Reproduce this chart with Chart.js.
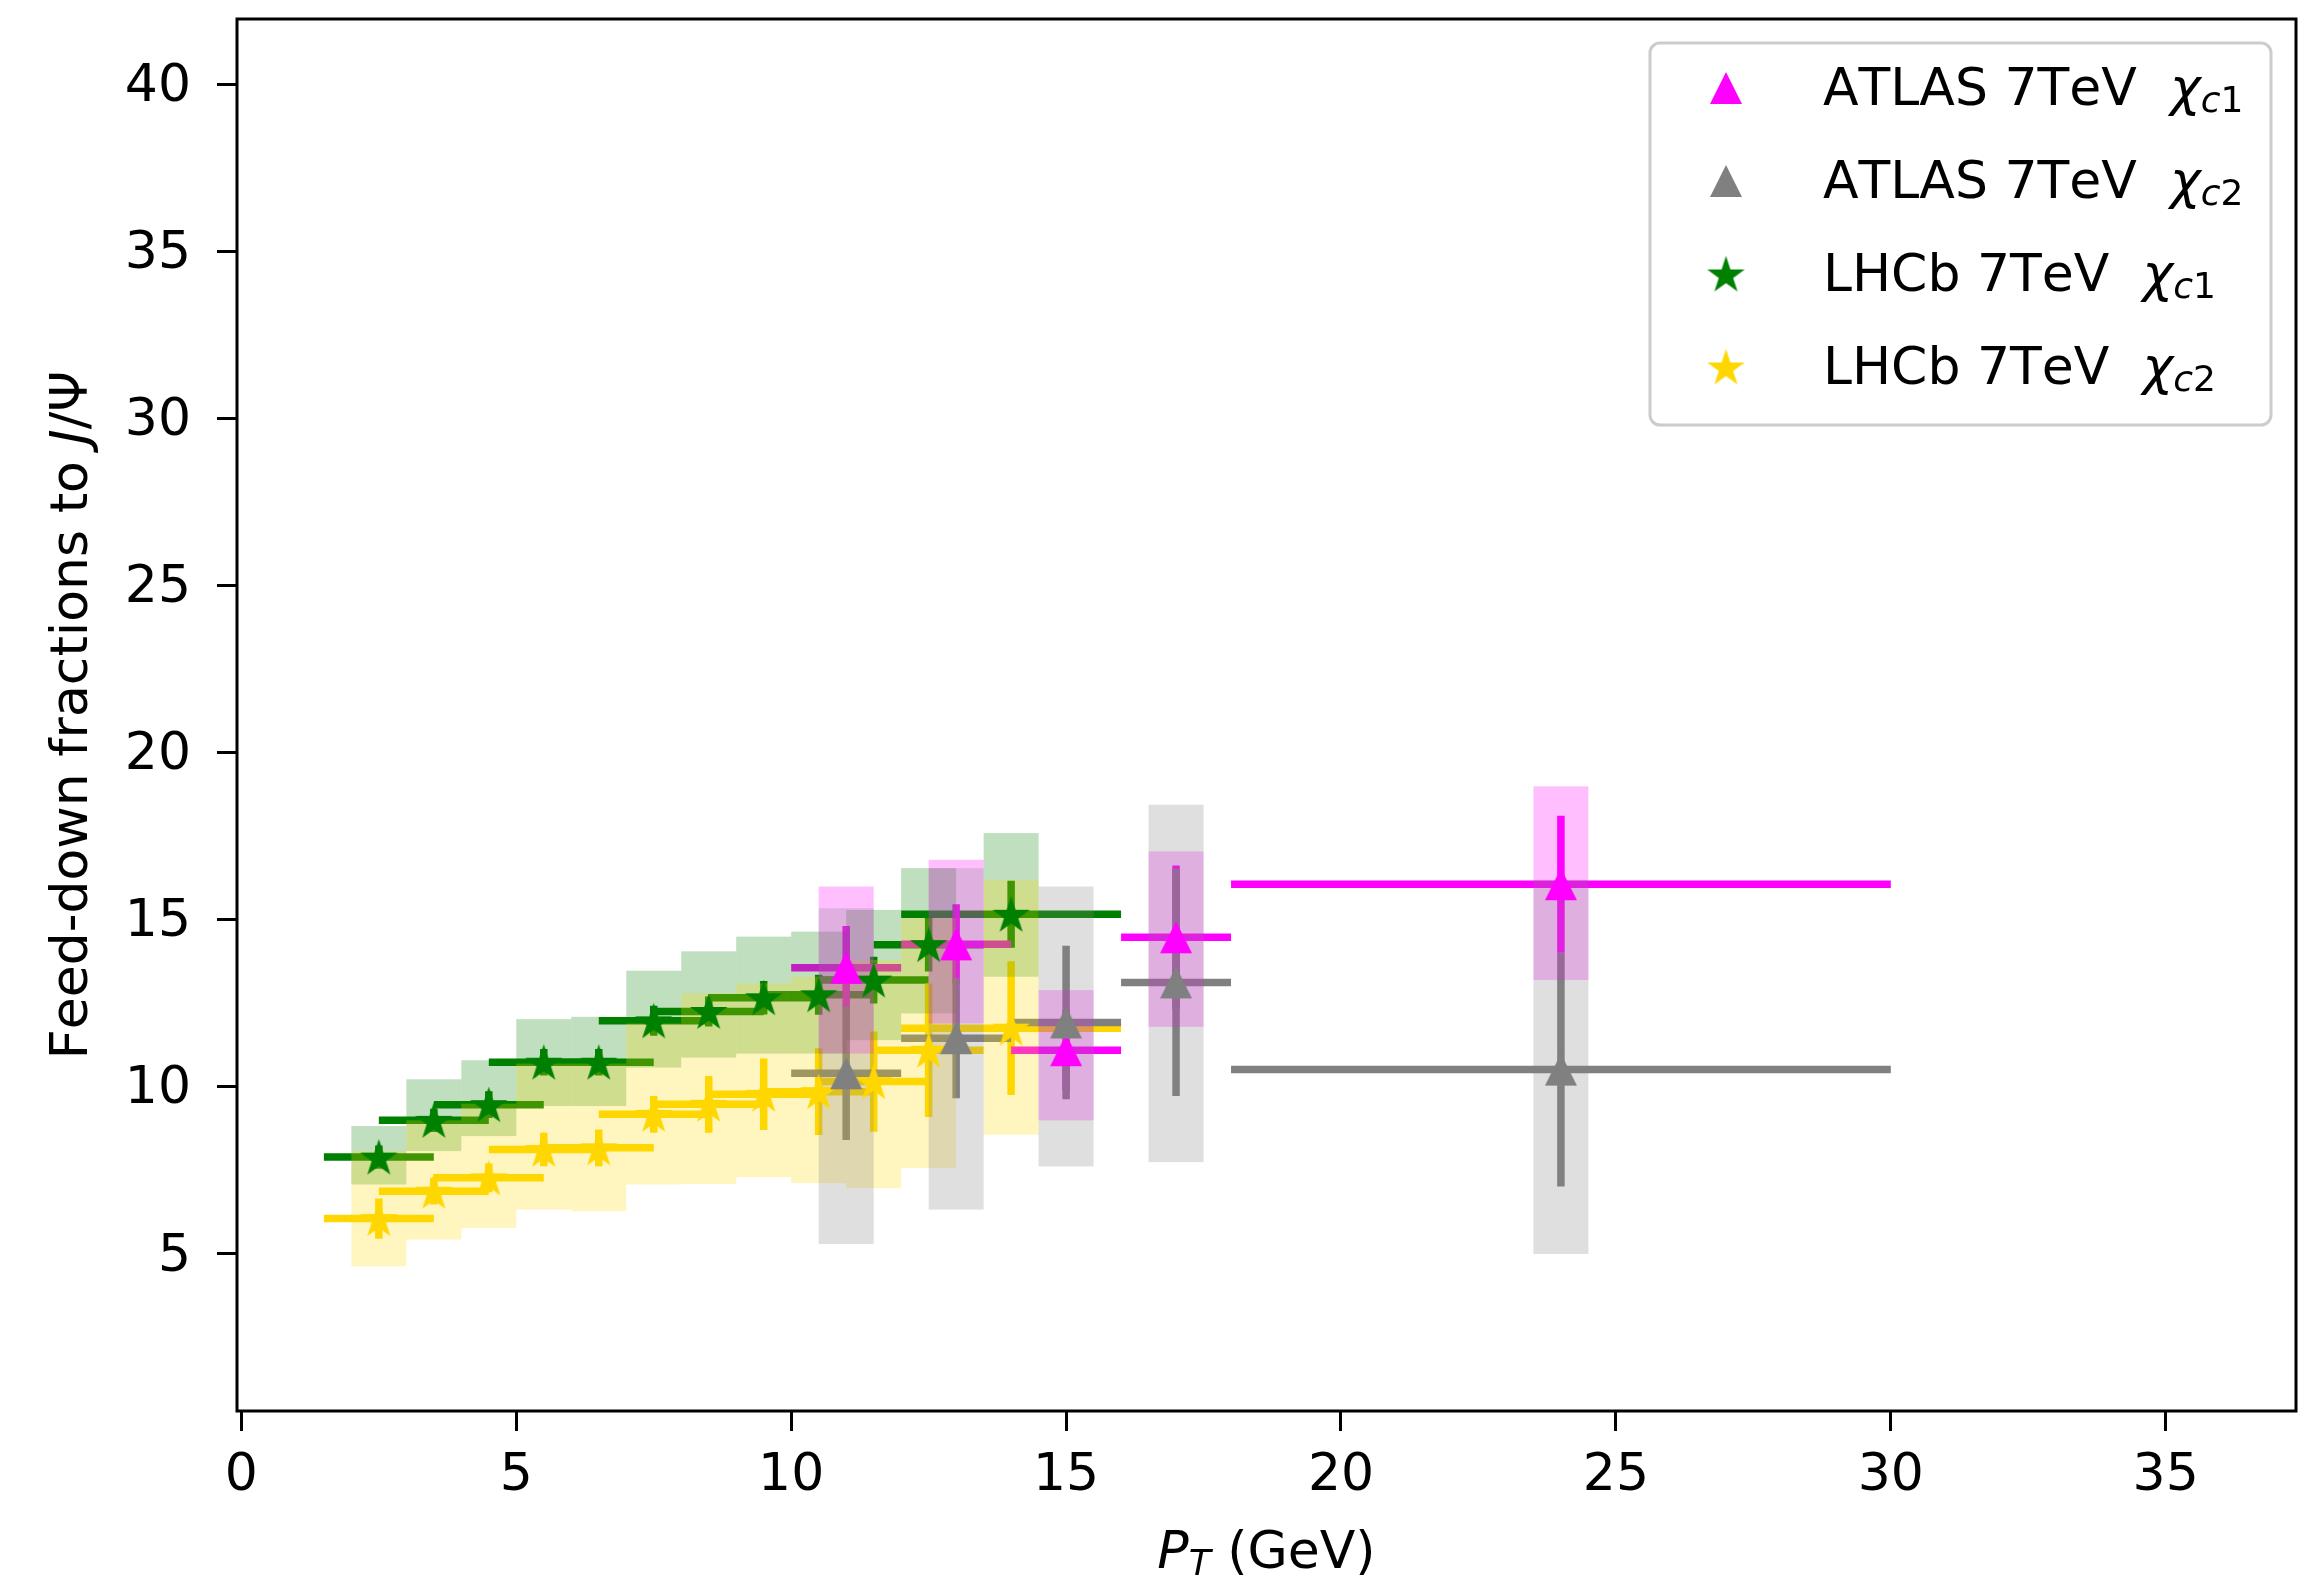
<!DOCTYPE html>
<html lang="en">
<head>
<meta charset="utf-8">
<title>Feed-down fractions to J/Psi</title>
<script src="https://cdn.jsdelivr.net/npm/chart.js@4.4.1/dist/chart.umd.min.js"></script>
<style>
  html, body { margin: 0; padding: 0; background: #ffffff; }
  canvas { display: block; }
</style>
</head>
<body>
<canvas id="feeddown" width="2321" height="1579"></canvas>
<script>
// ---- values (fractions in %) ----

// LHCb 7 TeV, one entry per pT bin
const lhcbPt = [2.5, 3.5, 4.5, 5.5, 6.5, 7.5, 8.5, 9.5, 10.5, 11.5, 12.5, 14];
const lhcbPtErr = [1, 1, 1, 1, 1, 1, 1, 1, 1, 1, 1, 2];
const lhcbChic1 = [7.9, 9.0, 9.47, 10.74, 10.74, 11.98, 12.26, 12.67, 12.76, 13.2, 14.26, 15.17];
const lhcbChic1Stat = [0.35, 0.35, 0.4, 0.4, 0.4, 0.45, 0.45, 0.5, 0.6, 0.7, 0.8, 1.0];
const lhcbChic1SysLow = [7.08, 8.08, 8.53, 9.43, 9.43, 10.58, 10.88, 11.0, 11.0, 11.4, 12.2, 13.3];
const lhcbChic1SysHigh = [8.83, 10.23, 10.8, 12.03, 12.1, 13.48, 14.06, 14.5, 14.65, 15.3, 16.55, 17.6];
const lhcbChic2 = [6.06, 6.88, 7.28, 8.13, 8.18, 9.18, 9.48, 9.78, 9.86, 10.16, 11.1, 11.76];
const lhcbChic2Stat = [0.6, 0.4, 0.43, 0.5, 0.55, 0.55, 0.85, 1.07, 1.3, 1.5, 2.0, 2.0];
const lhcbChic2SysLow = [4.63, 5.43, 5.78, 6.33, 6.28, 7.08, 7.1, 7.3, 7.12, 6.97, 7.57, 8.57];
const lhcbChic2SysHigh = [8.08, 9.0, 9.5, 10.7, 10.7, 11.9, 12.8, 13.1, 13.3, 13.8, 15.05, 16.2];

// ATLAS 7 TeV
const atlasPt = [11, 13, 15, 17, 24];
const atlasPtLow = [10, 12, 14, 16, 18];
const atlasPtHigh = [12, 14, 16, 18, 30];
const atlasChic1 = [13.57, 14.27, 11.1, 14.48, 16.07];
const atlasChic1Stat = [1.25, 1.2, 1.2, 2.15, 2.05];
const atlasChic1SysLow = [11.0, 11.9, 9.0, 11.8, 13.2];
const atlasChic1SysHigh = [16.0, 16.8, 12.9, 17.05, 19.0];
const atlasChic2 = [10.41, 11.46, 11.93, 13.13, 10.52];
const atlasChic2Stat = [2.0, 1.8, 2.3, 3.4, 3.5];
const atlasChic2SysLow = [5.3, 6.33, 7.62, 7.75, 5.0];
const atlasChic2SysHigh = [15.35, 16.55, 16.0, 18.45, 16.2];

const xTicks = [0, 5, 10, 15, 20, 25, 30, 35];
const yTicks = [5, 10, 15, 20, 25, 30, 35, 40];

const legendNames = ['ATLAS 7TeV', 'ATLAS 7TeV', 'LHCb 7TeV', 'LHCb 7TeV'];
const legendSubs = ['c1', 'c2', 'c1', 'c2'];

// ---- styling ----
const FONT = 'DejaVu Sans';
const FS = 52;                // main text size
const SUB = 36;               // subscript size
const BOX_HALF_WIDTH = 0.5;   // systematic boxes span one pT unit
const BAR_WIDTH = 7.5;

// filled marker drawn once into a small canvas, used as pointStyle
function makeMarker(shape, color, size) {
  const c = document.createElement('canvas');
  c.width = c.height = size + 6;
  const g = c.getContext('2d');
  const m = c.width / 2;
  const r = size / 2;
  g.fillStyle = color;
  g.strokeStyle = color;
  g.lineWidth = 2;
  g.lineJoin = 'miter';
  g.beginPath();
  if (shape === 'triangle') {
    g.moveTo(m, m - r);
    g.lineTo(m + r, m + r);
    g.lineTo(m - r, m + r);
  } else {
    for (let i = 0; i < 10; i++) {
      const rad = i % 2 === 0 ? r : r * 0.381966;
      const ang = -Math.PI / 2 + i * Math.PI / 5;
      g.lineTo(m + rad * Math.cos(ang), m + rad * Math.sin(ang) + r * 0.1);
    }
  }
  g.closePath();
  g.fill();
  if (shape !== 'triangle') g.stroke();
  return c;
}

// points carry their own error information
function buildPoints(xs, ys, xl, xh, stat, sysLo, sysHi) {
  return xs.map((x, i) => ({
    x: x, y: ys[i],
    xl: xl[i], xh: xh[i],
    ye: stat[i], sl: sysLo[i], sh: sysHi[i]
  }));
}

const lhcbLow = lhcbPt.map((p, i) => p - lhcbPtErr[i]);
const lhcbHigh = lhcbPt.map((p, i) => p + lhcbPtErr[i]);

const datasets = [
  {
    label: 'ATLAS 7TeV chi_c1',
    data: buildPoints(atlasPt, atlasChic1, atlasPtLow, atlasPtHigh, atlasChic1Stat, atlasChic1SysLow, atlasChic1SysHigh),
    color: '#ff00ff', box: 'rgba(255, 0, 255, 0.25)',
    pointStyle: makeMarker('triangle', '#ff00ff', 32), order: 1
  },
  {
    label: 'ATLAS 7TeV chi_c2',
    data: buildPoints(atlasPt, atlasChic2, atlasPtLow, atlasPtHigh, atlasChic2Stat, atlasChic2SysLow, atlasChic2SysHigh),
    color: '#808080', box: 'rgba(128, 128, 128, 0.25)',
    pointStyle: makeMarker('triangle', '#808080', 32), order: 0
  },
  {
    label: 'LHCb 7TeV chi_c1',
    data: buildPoints(lhcbPt, lhcbChic1, lhcbLow, lhcbHigh, lhcbChic1Stat, lhcbChic1SysLow, lhcbChic1SysHigh),
    color: '#008000', box: 'rgba(0, 128, 0, 0.25)',
    pointStyle: makeMarker('star', '#008000', 33), order: 3
  },
  {
    label: 'LHCb 7TeV chi_c2',
    data: buildPoints(lhcbPt, lhcbChic2, lhcbLow, lhcbHigh, lhcbChic2Stat, lhcbChic2SysLow, lhcbChic2SysHigh),
    color: '#ffd700', box: 'rgba(255, 215, 0, 0.25)',
    pointStyle: makeMarker('star', '#ffd700', 33), order: 2
  }
];
datasets.forEach(ds => {
  ds.showLine = false;
  ds.pointRadius = 18;
  ds.pointBackgroundColor = ds.color;
  ds.pointBorderColor = ds.color;
});

// bars go down first, the translucent boxes over them, markers last
const barOrder = [2, 3, 0, 1];

const errorPlugin = {
  id: 'errorPlugin',
  beforeDatasetsDraw(chart) {
    const { ctx, chartArea: a, scales: { x, y } } = chart;
    ctx.save();
    ctx.beginPath();
    ctx.rect(a.left, a.top, a.width, a.height);
    ctx.clip();
    ctx.lineWidth = BAR_WIDTH;
    ctx.lineCap = 'butt';
    barOrder.forEach(i => {
      const ds = chart.data.datasets[i];
      ctx.strokeStyle = ds.color;
      ds.data.forEach(p => {
        const px = x.getPixelForValue(p.x);
        const py = y.getPixelForValue(p.y);
        ctx.beginPath();
        ctx.moveTo(x.getPixelForValue(p.xl), py);
        ctx.lineTo(x.getPixelForValue(p.xh), py);
        ctx.moveTo(px, y.getPixelForValue(p.y - p.ye));
        ctx.lineTo(px, y.getPixelForValue(p.y + p.ye));
        ctx.stroke();
      });
    });
    barOrder.forEach(i => {
      const ds = chart.data.datasets[i];
      ctx.fillStyle = ds.box;
      ds.data.forEach(p => {
        const l = x.getPixelForValue(p.x - BOX_HALF_WIDTH);
        const r = x.getPixelForValue(p.x + BOX_HALF_WIDTH);
        const t = y.getPixelForValue(p.sh);
        const b = y.getPixelForValue(p.sl);
        ctx.fillRect(l, t, r - l, b - t);
      });
    });
    ctx.restore();
  }
};

// draw a row of differently styled text pieces
function drawRuns(ctx, runs, x, y) {
  runs.forEach(r => {
    ctx.font = r.font;
    ctx.fillText(r.text, x, y + (r.dy || 0));
    x += ctx.measureText(r.text).width;
  });
}
function runsWidth(ctx, runs) {
  let w = 0;
  runs.forEach(r => { ctx.font = r.font; w += ctx.measureText(r.text).width; });
  return w;
}

const decorPlugin = {
  id: 'decorPlugin',
  afterDraw(chart) {
    const { ctx, chartArea: a } = chart;
    ctx.save();
    // full frame (matplotlib spines)
    ctx.strokeStyle = '#000';
    ctx.lineWidth = 3;
    ctx.strokeRect(a.left, a.top, a.width, a.height);

    ctx.fillStyle = '#000';
    ctx.textAlign = 'left';
    ctx.textBaseline = 'alphabetic';
    ctx.fontKerning = 'none';

    // x axis title
    const xRuns = [
      { text: 'P', font: 'italic ' + FS + 'px ' + FONT },
      { text: 'T', font: 'italic ' + SUB + 'px ' + FONT, dy: 7 },
      { text: ' (GeV)', font: FS + 'px ' + FONT }
    ];
    const xw = runsWidth(ctx, xRuns);
    drawRuns(ctx, xRuns, (a.left + a.right) / 2 - xw / 2, 1568);

    // y axis title
    const yRuns = [
      { text: 'Feed-down fractions to ', font: FS + 'px ' + FONT },
      { text: 'J', font: 'italic ' + FS + 'px ' + FONT },
      { text: '/\u03A8', font: FS + 'px ' + FONT }
    ];
    const yw = runsWidth(ctx, yRuns);
    ctx.save();
    ctx.translate(87, (a.top + a.bottom) / 2);
    ctx.rotate(-Math.PI / 2);
    drawRuns(ctx, yRuns, -yw / 2, 0);
    ctx.restore();

    // legend
    const lx = 1650, ly = 43, lw = 621, lh = 382, rad = 10;
    ctx.beginPath();
    ctx.roundRect(lx, ly, lw, lh, rad);
    ctx.fillStyle = 'rgba(255, 255, 255, 0.8)';
    ctx.fill();
    ctx.strokeStyle = '#cccccc';
    ctx.lineWidth = 3;
    ctx.stroke();

    const rowY = [88, 181, 274, 367];
    chart.data.datasets.forEach((ds, i) => {
      const img = ds.pointStyle;
      ctx.drawImage(img, 1726 - img.width / 2, rowY[i] - img.height / 2);
      ctx.fillStyle = '#000';
      drawRuns(ctx, [
        { text: legendNames[i] + '  ', font: FS + 'px ' + FONT },
        { text: '\u03C7', font: 'italic ' + FS + 'px ' + FONT },
        { text: legendSubs[i][0], font: 'italic ' + SUB + 'px ' + FONT, dy: 7 },
        { text: legendSubs[i].slice(1), font: SUB + 'px ' + FONT, dy: 7 }
      ], 1823, rowY[i] + 17);
    });
    ctx.restore();
  }
};

Chart.defaults.font.family = FONT;
Chart.defaults.color = '#000';

const tickGrid = {
  display: true, drawOnChartArea: false, drawTicks: true,
  tickLength: 20, tickWidth: 3, tickColor: '#000'
};

// keep the plot box where the reference has it
function noEdgePadding(s) {
  s.paddingTop = 0; s.paddingBottom = 0;
  s.paddingLeft = 0; s.paddingRight = 0;
}

new Chart(document.getElementById('feeddown'), {
  type: 'scatter',
  data: { datasets: datasets },
  options: {
    responsive: false,
    animation: false,
    devicePixelRatio: 1,
    layout: { padding: { top: 18, right: 25, left: 0, bottom: 0 } },
    plugins: {
      legend: { display: false },
      tooltip: { enabled: false }
    },
    scales: {
      x: {
        type: 'linear',
        min: -0.08,
        max: 37.37,
        afterBuildTicks: s => { s.ticks = xTicks.map(v => ({ value: v })); },
        afterFit: s => { s.height = 168; noEdgePadding(s); },
        grid: tickGrid,
        border: { display: false },
        ticks: { color: '#000', font: { size: FS }, padding: 14, maxRotation: 0 }
      },
      y: {
        type: 'linear',
        min: 0.3,
        max: 41.97,
        afterBuildTicks: s => { s.ticks = yTicks.map(v => ({ value: v })); },
        afterFit: s => { s.width = 237; noEdgePadding(s); },
        grid: tickGrid,
        border: { display: false },
        ticks: { color: '#000', font: { size: FS }, padding: 26, labelOffset: 3 }
      }
    }
  },
  plugins: [errorPlugin, decorPlugin]
});
</script>
</body>
</html>
